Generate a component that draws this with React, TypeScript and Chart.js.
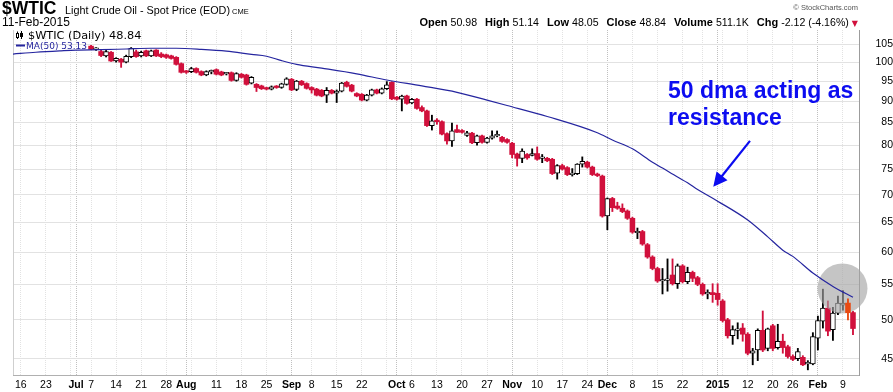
import React, { useEffect, useRef } from 'react';
import { Chart, registerables } from 'chart.js';

Chart.register(...registerables);

// ---------------- data ----------------
const firstDay = '2014-06-13';
const lastDay = '2015-02-11';
const holidays = ['2014-07-04', '2014-09-01', '2014-11-27', '2014-12-25', '2015-01-01', '2015-01-19'];
const candleFirstDate = '2014-07-07';
const highlightDate = '2015-02-10';

const opens = [
  104.4, 103.5, 102.9, 101.7, 102.7, 100.3, 100.8, 100.0, 101.5, 102.8,
  101.7, 103.1, 101.7, 103.3, 102.2, 102.0, 101.7, 101.3, 99.6, 97.5,
  97.5, 98.3, 97.5, 96.6, 97.4, 98.0, 97.4, 96.9, 97.2, 95.2,
  96.8, 96.6, 94.5, 94.2, 93.8, 93.3, 93.0, 93.7, 93.4, 94.2,
  95.5, 92.9, 95.0, 94.4, 93.4, 93.0, 92.7, 91.5, 92.7, 92.0,
  92.5, 94.7, 94.0, 91.9, 91.7, 90.3, 91.5, 92.8, 92.0, 93.1,
  94.7, 91.0, 90.5, 91.3, 89.6, 90.5, 88.5, 87.7, 84.3, 85.4,
  85.2, 82.5, 80.9, 83.4, 83.2, 82.1, 82.6, 80.5, 82.0, 80.6,
  81.5, 82.0, 81.7, 81.2, 80.4, 78.1, 77.2, 78.0, 77.8, 78.2,
  77.2, 77.2, 77.0, 74.2, 75.7, 75.3, 73.9, 74.1, 76.0, 76.4,
  75.4, 74.0, 73.6, 66.1, 69.3, 67.9, 67.5, 67.0, 65.7, 63.2,
  63.4, 61.2, 59.2, 57.4, 55.5, 55.6, 56.4, 55.1, 57.8, 55.4,
  56.8, 56.0, 55.0, 53.6, 53.8, 53.7, 52.6, 50.0, 47.9, 48.6,
  48.9, 48.1, 45.7, 46.1, 48.6, 46.3, 49.2, 46.4, 47.2, 46.5,
  45.3, 45.05, 45.2, 44.4, 44.4, 47.6, 49.8, 51.6, 48.7, 50.9,
  52.0, 52.3, 50.98,
];
const highs = [
  104.6, 104.0, 103.3, 103.2, 102.9, 101.2, 101.0, 101.9, 104.0, 103.3,
  103.0, 103.3, 103.3, 103.4, 102.6, 102.2, 101.9, 101.5, 99.8, 97.8,
  98.6, 98.5, 97.7, 97.7, 97.9, 98.2, 97.6, 97.3, 97.4, 97.2,
  97.0, 96.8, 96.2, 94.4, 94.0, 93.5, 93.8, 93.9, 94.5, 95.9,
  95.7, 95.2, 95.2, 94.6, 93.6, 93.2, 92.9, 93.4, 92.9, 92.8,
  94.7, 95.0, 94.2, 92.1, 91.9, 91.7, 93.0, 93.0, 93.3, 94.9,
  94.9, 91.2, 91.5, 91.5, 90.7, 90.7, 88.9, 87.9, 86.7, 85.9,
  85.4, 82.7, 84.9, 84.4, 83.4, 83.0, 82.8, 82.2, 82.2, 81.7,
  83.1, 83.1, 81.9, 81.4, 80.6, 78.3, 79.2, 78.2, 79.2, 79.6,
  78.0, 77.4, 77.2, 75.9, 76.0, 75.5, 75.1, 76.1, 77.5, 76.6,
  75.6, 74.2, 73.8, 69.4, 69.5, 68.6, 68.3, 67.2, 65.9, 64.0,
  63.6, 61.4, 59.4, 57.6, 57.4, 58.9, 58.9, 58.1, 58.0, 57.6,
  57.0, 56.2, 55.2, 54.2, 55.1, 55.1, 52.8, 50.2, 49.2, 49.6,
  49.5, 48.3, 46.3, 48.8, 51.2, 48.9, 49.4, 49.4, 48.1, 46.7,
  45.5, 46.3, 45.4, 44.8, 48.3, 50.5, 54.3, 52.6, 51.7, 53.3,
  54.1, 52.9, 51.14,
];
const lows = [
  103.4, 103.2, 101.5, 101.4, 100.2, 100.0, 98.6, 99.8, 101.2, 101.3,
  101.4, 101.5, 101.5, 101.5, 101.2, 101.0, 100.8, 99.2, 97.1, 97.0,
  97.2, 97.1, 96.4, 96.4, 96.9, 96.6, 96.4, 96.6, 95.0, 95.0,
  95.8, 94.0, 94.3, 92.4, 92.9, 92.8, 92.8, 93.2, 93.2, 94.0,
  92.6, 92.6, 93.9, 93.0, 92.0, 91.3, 91.1, 89.7, 91.8, 89.7,
  92.3, 93.5, 92.3, 91.1, 90.1, 90.1, 91.3, 91.8, 91.8, 92.9,
  90.4, 90.3, 87.7, 89.3, 89.4, 88.1, 87.5, 84.1, 83.3, 84.6,
  82.2, 80.2, 79.7, 82.8, 82.6, 81.9, 80.3, 80.0, 80.4, 80.4,
  81.3, 81.8, 80.6, 80.4, 77.3, 75.6, 76.3, 77.0, 77.7, 76.8,
  76.3, 76.5, 73.9, 73.0, 74.8, 73.7, 73.6, 73.9, 75.4, 75.2,
  73.7, 73.5, 65.9, 63.7, 66.9, 67.3, 66.7, 65.5, 63.1, 62.2,
  61.1, 59.0, 57.2, 55.3, 53.6, 54.0, 54.9, 54.4, 55.2, 55.1,
  55.4, 54.8, 53.4, 52.9, 52.4, 52.0, 49.7, 47.6, 46.8, 47.5,
  47.2, 45.5, 44.3, 44.8, 45.9, 46.0, 46.0, 46.2, 45.7, 45.1,
  44.8, 44.8, 44.2, 43.7, 44.3, 46.1, 48.9, 47.9, 47.3, 50.7,
  51.3, 50.0, 48.05,
];
const closes = [
  103.5, 103.6, 101.8, 102.9, 100.3, 101.0, 100.0, 101.6, 103.8, 101.5,
  102.7, 101.7, 103.1, 101.7, 101.5, 101.3, 101.0, 99.4, 97.3, 97.3,
  98.3, 97.3, 96.6, 97.5, 97.5, 96.8, 96.6, 96.9, 95.2, 97.0,
  96.0, 94.2, 96.0, 93.4, 93.1, 93.0, 93.6, 93.4, 94.3, 95.6,
  92.8, 95.0, 94.1, 93.2, 92.8, 91.5, 91.3, 92.7, 92.0, 92.5,
  94.5, 93.7, 92.5, 91.3, 90.3, 91.5, 92.8, 92.0, 93.1, 94.1,
  90.6, 90.5, 91.3, 89.5, 90.5, 88.3, 87.7, 84.3, 85.4, 85.2,
  82.4, 80.9, 83.1, 82.8, 82.8, 82.7, 80.5, 82.0, 80.6, 81.5,
  82.0, 82.2, 80.8, 80.6, 78.0, 77.2, 78.7, 77.3, 78.2, 77.0,
  77.3, 76.7, 74.1, 75.7, 75.0, 73.9, 74.0, 76.0, 76.6, 75.4,
  73.9, 73.7, 66.1, 69.3, 67.6, 67.5, 66.9, 65.7, 63.3, 63.4,
  61.3, 59.2, 57.4, 55.5, 55.6, 55.8, 55.1, 57.8, 55.4, 56.8,
  55.9, 55.0, 53.6, 53.8, 53.5, 52.8, 49.9, 47.9, 48.7, 48.8,
  48.1, 45.7, 46.0, 48.6, 46.1, 48.8, 46.3, 47.2, 46.4, 45.3,
  44.95, 45.9, 44.3, 44.5, 47.8, 49.9, 51.6, 48.5, 50.9, 52.3,
  52.3, 50.96, 48.84,
];

// 50-day moving average, read at trading-day positions (0 = 13 Jun 2014)
const maDay = [
  -0.6, 4, 9, 12, 17, 22, 27, 32, 37, 42, 47, 50, 53, 56, 61, 68, 74, 81, 88, 94,
  98, 106, 116, 119, 123, 127, 129, 132, 134, 136, 140, 146, 150, 153, 155, 159, 163, 167,
];
const maValues = [
  102.2, 102.7, 103.1, 103.3, 103.4, 103.6, 103.8, 103.8, 103.5, 103.0, 102.1, 101.6, 100.4, 99.4, 98.4, 96.9, 95.3, 93.8, 92.2, 90.3,
  89.0, 86.4, 82.7, 81.1, 79.2, 76.4, 75.2, 73.4, 72.3, 71.0, 68.8, 65.4, 62.5, 60.3, 59.3, 56.7, 54.7, 53.13,
];

const yTickValues = [45, 50, 55, 60, 65, 70, 75, 80, 85, 90, 95, 100, 105];
const xTickDates = [
  '2014-06-16', '2014-06-23', '2014-06-30', '2014-07-01', '2014-07-07', '2014-07-14', '2014-07-21', '2014-07-28',
  '2014-08-01', '2014-08-04', '2014-08-11', '2014-08-18', '2014-08-25', '2014-09-02', '2014-09-08', '2014-09-15',
  '2014-09-22', '2014-09-29', '2014-10-01', '2014-10-06', '2014-10-13', '2014-10-20', '2014-10-27', '2014-11-03',
  '2014-11-10', '2014-11-17', '2014-11-24', '2014-12-01', '2014-12-08', '2014-12-15', '2014-12-22', '2014-12-29',
  '2015-01-02', '2015-01-05', '2015-01-12', '2015-01-20', '2015-01-26', '2015-02-02', '2015-02-09',
];
const xTickTexts = [
  '16', '23', '', 'Jul', '7', '14', '21', '28',
  'Aug', '', '11', '18', '25', 'Sep', '8', '15',
  '22', '', 'Oct', '6', '13', '20', '27', 'Nov',
  '10', '17', '24', 'Dec', '8', '15', '22', '',
  '2015', '', '12', '20', '26', 'Feb', '9',
];
const monthStartDates = ['2014-07-01', '2014-08-01', '2014-09-02', '2014-10-01', '2014-11-03', '2014-12-01', '2015-01-02', '2015-02-02'];

const headerSymbol = '$WTIC';
const headerTitle = 'Light Crude Oil - Spot Price (EOD)';
const headerExchange = 'CME';
const headerDate = '11-Feb-2015';
const statLabels = ['Open', 'High', 'Low', 'Close', 'Volume', 'Chg'];
const statValues = ['50.98', '51.14', '48.05', '48.84', '511.1K', '-2.12 (-4.16%)'];
const legendMain = '$WTIC (Daily) 48.84';
const legendMA = 'MA(50) 53.13';
const noteLines = ['50 dma acting as', 'resistance'];

// ---------------- layout / style ----------------
const W = 893;
const H = 392;
const X_MIN = -0.57;
const X_MAX = 168.2;
const Y_MIN = 43.1;
const Y_MAX = 109.03;
const FONT = '"Liberation Sans", Arial, Helvetica, sans-serif';
const RED = '#d1103c';
const ORANGE = '#e84a12';
const MA_COLOR = '#25259f';
const NOTE_BLUE = '#0c0cf0';
const circleAnchor = { day: 164.9, value: 54.4, r: 25 };
const arrowTail = { day: 146.45, value: 80.9 };
const arrowTip = { day: 139.13, value: 71.5 };
const noteAnchor = { day: 130.1, values: [90.85, 84.45] };

function buildDays(): string[] {
  const out: string[] = [];
  const d = new Date(firstDay + 'T00:00:00Z');
  const end = new Date(lastDay + 'T00:00:00Z');
  while (d.getTime() <= end.getTime()) {
    const wd = d.getUTCDay();
    const s = d.toISOString().slice(0, 10);
    if (wd !== 0 && wd !== 6 && holidays.indexOf(s) < 0) out.push(s);
    d.setUTCDate(d.getUTCDate() + 1);
  }
  return out;
}

const Txt = (p: { x?: number; right?: number; base: number; size: number; bold?: boolean; color?: string; family?: string; children: React.ReactNode }) => (
  <span
    style={{
      position: 'absolute',
      left: p.x,
      right: p.right,
      top: p.base - 0.8465 * p.size,
      fontSize: p.size,
      lineHeight: `${p.size}px`,
      fontWeight: p.bold ? 700 : 400,
      fontFamily: p.family || FONT,
      color: p.color || '#000',
      whiteSpace: 'nowrap',
    }}
  >
    {p.children}
  </span>
);

export default function App() {
  const canvasRef = useRef<HTMLCanvasElement | null>(null);

  useEffect(() => {
    document.body.style.margin = '0';
    const days = buildDays();
    const dayIdx = (s: string) => days.indexOf(s);
    const first = dayIdx(candleFirstDate);
    const hlIdx = dayIdx(highlightDate);

    const candles = opens.map((o, k) => ({ i: first + k, o, h: highs[k], l: lows[k], c: closes[k] }));
    const normal = candles.filter((c) => c.i !== hlIdx);
    const hl = candles.filter((c) => c.i === hlIdx);
    const down = (c: { o: number; c: number }) => c.c < c.o;

    const tickIdx = xTickDates.map(dayIdx);
    const monthSet = new Set(monthStartDates.map(dayIdx));

    const overlay = {
      id: 'overlay',
      beforeDatasetsDraw(chart: any) {
        const { ctx, chartArea } = chart;
        ctx.save();
        ctx.strokeStyle = '#cfcfcf';
        ctx.lineWidth = 1;
        ctx.beginPath();
        ctx.moveTo(Math.round(chartArea.left) + 0.5, chartArea.top);
        ctx.lineTo(Math.round(chartArea.left) + 0.5, chartArea.bottom);
        ctx.stroke();
        ctx.restore();
      },
      afterDatasetDraw(chart: any, args: any) {
        if (args.index !== 1) return;
        const { ctx } = chart;
        const xs = chart.scales.x;
        const ys = chart.scales.y;
        ctx.save();
        ctx.fillStyle = 'rgba(165,165,165,0.64)';
        ctx.beginPath();
        ctx.arc(xs.getPixelForValue(circleAnchor.day), ys.getPixelForValue(circleAnchor.value), circleAnchor.r, 0, Math.PI * 2);
        ctx.fill();
        ctx.restore();
      },
      afterDraw(chart: any) {
        const { ctx, chartArea } = chart;
        const xs = chart.scales.x;
        const ys = chart.scales.y;
        const L = chartArea.left;
        const T = chartArea.top;
        ctx.save();
        // legend icon
        ctx.strokeStyle = '#000';
        ctx.fillStyle = '#000';
        ctx.lineWidth = 1;
        ctx.strokeRect(L + 3.5, T + 3.5, 2, 4);
        ctx.beginPath();
        ctx.moveTo(L + 4.5, T + 1.5); ctx.lineTo(L + 4.5, T + 3.5);
        ctx.moveTo(L + 4.5, T + 7.5); ctx.lineTo(L + 4.5, T + 9);
        ctx.moveTo(L + 8.5, T + 1); ctx.lineTo(L + 8.5, T + 9);
        ctx.stroke();
        ctx.fillRect(L + 7, T + 3, 3, 4);
        ctx.font = `11.3px "DejaVu Sans", sans-serif`;
        ctx.textBaseline = 'alphabetic';
        ctx.fillText(legendMain, L + 15, T + 8.7);
        // MA legend
        ctx.strokeStyle = MA_COLOR;
        ctx.lineWidth = 2;
        ctx.beginPath();
        ctx.moveTo(L + 3, T + 15.5);
        ctx.lineTo(L + 12, T + 15.5);
        ctx.stroke();
        ctx.fillStyle = MA_COLOR;
        ctx.font = `9px "DejaVu Sans", sans-serif`;
        ctx.fillText(legendMA, L + 13, T + 18.6);

        // annotation text
        ctx.fillStyle = NOTE_BLUE;
        ctx.font = `bold 23px ${FONT}`;
        const nx = xs.getPixelForValue(noteAnchor.day);
        noteLines.forEach((s, k) => ctx.fillText(s, nx, ys.getPixelForValue(noteAnchor.values[k])));

        // arrow
        const x1 = xs.getPixelForValue(arrowTail.day);
        const y1 = ys.getPixelForValue(arrowTail.value);
        const x2 = xs.getPixelForValue(arrowTip.day);
        const y2 = ys.getPixelForValue(arrowTip.value);
        const a = Math.atan2(y2 - y1, x2 - x1);
        const hl2 = 14;
        const hw = 7;
        const bx = x2 - hl2 * Math.cos(a);
        const by = y2 - hl2 * Math.sin(a);
        ctx.strokeStyle = NOTE_BLUE;
        ctx.lineWidth = 2.2;
        ctx.beginPath();
        ctx.moveTo(x1, y1);
        ctx.lineTo(bx + 2 * Math.cos(a), by + 2 * Math.sin(a));
        ctx.stroke();
        ctx.beginPath();
        ctx.moveTo(x2, y2);
        ctx.lineTo(bx + hw * Math.sin(a), by - hw * Math.cos(a));
        ctx.lineTo(bx - hw * Math.sin(a), by + hw * Math.cos(a));
        ctx.closePath();
        ctx.fill();
        ctx.restore();
      },
    };

    const chart = new Chart(canvasRef.current as HTMLCanvasElement, {
      type: 'bar',
      data: {
        datasets: [
          {
            type: 'bar',
            label: 'wicks',
            data: normal.map((c) => ({ x: c.i, y: [c.l, c.h] })) as any,
            backgroundColor: normal.map((c) => (down(c) ? RED : '#000')),
            barThickness: 1.2,
            grouped: false,
            order: 6,
          } as any,
          {
            type: 'bar',
            label: 'bodies',
            data: normal.map((c) => ({ x: c.i, y: [c.o, c.c] })) as any,
            backgroundColor: normal.map((c) => (down(c) ? RED : '#fff')),
            borderColor: normal.map((c) => (down(c) ? RED : '#000')),
            borderWidth: normal.map((c) => (down(c) ? 0 : 1)),
            borderSkipped: false,
            barThickness: 4.9,
            minBarLength: 1.5,
            grouped: false,
            order: 5,
          } as any,
          {
            type: 'bar',
            label: 'hl-wick',
            data: hl.map((c) => ({ x: c.i, y: [c.l, c.h] })) as any,
            backgroundColor: ORANGE,
            barThickness: 1.2,
            grouped: false,
            order: 3,
          } as any,
          {
            type: 'bar',
            label: 'hl-body',
            data: hl.map((c) => ({ x: c.i, y: [c.o, c.c] })) as any,
            backgroundColor: ORANGE,
            borderWidth: 0,
            barThickness: 4.9,
            grouped: false,
            order: 2,
          } as any,
          {
            type: 'line',
            label: 'MA(50)',
            data: maDay.map((x, k) => ({ x, y: maValues[k] })),
            borderColor: MA_COLOR,
            borderWidth: 1.2,
            pointRadius: 0,
            cubicInterpolationMode: 'monotone',
            order: 1,
          } as any,
        ],
      },
      options: {
        animation: false,
        responsive: false,
        maintainAspectRatio: false,
        layout: { padding: { left: 13, top: 30, right: 0, bottom: 0 } },
        plugins: { legend: { display: false }, tooltip: { enabled: false } },
        scales: {
          x: {
            type: 'linear',
            position: 'bottom',
            min: X_MIN,
            max: X_MAX,
            offset: false,
            afterBuildTicks: (s: any) => {
              s.ticks = tickIdx.map((v) => ({ value: v }));
            },
            afterFit: (s: any) => {
              s.height = 17;
            },
            grid: {
              offset: false,
              drawTicks: false,
              lineWidth: 1,
              color: (c: any) => (monthSet.has(tickIdx[c.index]) ? '#c0c0c0' : '#e2e2e2'),
            },
            border: { display: true, color: '#b0b0b0', dash: [1, 1] },
            ticks: {
              autoSkip: false,
              maxRotation: 0,
              minRotation: 0,
              padding: 4,
              color: '#000',
              font: (c: any) => ({ family: FONT, size: 10.5, weight: monthSet.has(tickIdx[c.index]) ? 'bold' : 'normal' }),
              callback: (_v: any, i: number) => xTickTexts[i],
            },
          } as any,
          y: {
            type: 'logarithmic',
            position: 'right',
            min: Y_MIN,
            max: Y_MAX,
            afterBuildTicks: (s: any) => {
              s.ticks = yTickValues.map((v) => ({ value: v }));
            },
            afterFit: (s: any) => {
              s.width = 34;
            },
            grid: { drawTicks: false, color: '#e2e2e2', lineWidth: 1 },
            border: { display: true, color: '#9c9c9c' },
            ticks: {
              z: 1,
              padding: 3,
              crossAlign: 'far',
              color: '#000',
              font: { family: FONT, size: 10.5 },
              callback: (v: any) => String(v),
            },
          } as any,
        },
      },
      plugins: [overlay],
    });
    return () => chart.destroy();
  }, []);

  return (
    <div style={{ position: 'fixed', left: 0, top: 0, width: W, height: H, background: '#fff', overflow: 'hidden' }}>
      <canvas ref={canvasRef} width={W} height={H} style={{ position: 'absolute', left: 0, top: 0, width: W, height: H }} />
      <Txt x={2} base={14.5} size={17.5} bold>{headerSymbol}</Txt>
      <Txt x={65} base={14} size={10.8}>{headerTitle}</Txt>
      <Txt x={232} base={14} size={7.5}>{headerExchange}</Txt>
      <Txt x={2} base={26} size={12}>{headerDate}</Txt>
      <Txt right={W - 858} base={10} size={7.5} color="#555">© StockCharts.com</Txt>
      <div
        style={{
          position: 'absolute',
          right: W - 858,
          top: 26 - 0.8465 * 11,
          fontSize: 11,
          lineHeight: '11px',
          fontFamily: FONT,
          whiteSpace: 'nowrap',
          color: '#000',
        }}
      >
        {statLabels.map((s, k) => (
          <React.Fragment key={k}>
            <span style={{ fontWeight: 700, marginLeft: k ? 8 : 0 }}>{s}</span>
            <span style={{ fontSize: 10.6, marginLeft: 3 }}>{statValues[k]}</span>
          </React.Fragment>
        ))}
        <span style={{ color: RED, fontFamily: '"DejaVu Sans", sans-serif', fontSize: 8, marginLeft: 3 }}>▼</span>
      </div>
    </div>
  );
}
